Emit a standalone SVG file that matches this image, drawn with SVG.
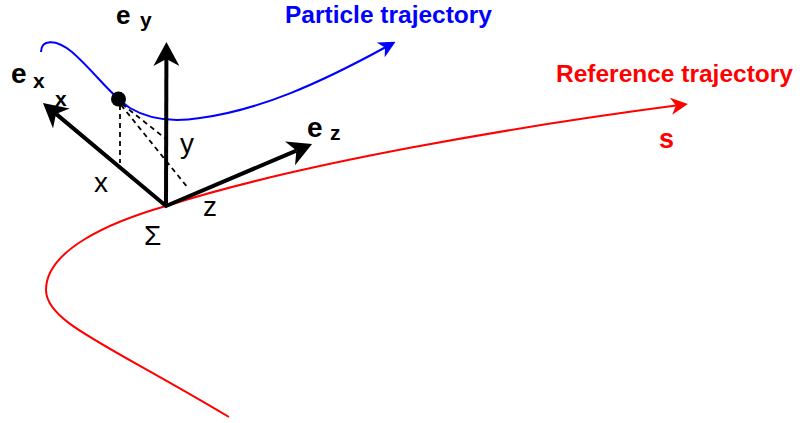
<svg xmlns="http://www.w3.org/2000/svg" width="800" height="423" viewBox="0 0 800 423">
  <style>
    text { font-family: "Liberation Sans", Arial, Helvetica, sans-serif; }
    .lbl { font-size: 28px; fill: #000; }
    .e { font-size: 28px; font-weight: bold; fill: #000; }
    .sub { font-size: 21px; font-weight: bold; fill: #000; }
    .title { font-size: 24.5px; font-weight: bold; }
    .axis { fill: none; stroke: #000; stroke-width: 4; stroke-linejoin: miter; }
    .dash { fill: none; stroke: #000; stroke-width: 1.8; stroke-dasharray: 5 4; }
  </style>
  <defs>
    <marker id="arrRed" markerUnits="userSpaceOnUse" markerWidth="17" markerHeight="17" refX="5" refY="8.5" orient="auto">
      <path d="M0,0 L17,8.5 L0,17 L5,8.5 Z" fill="#FF0000"/>
    </marker>
    <marker id="arrBlue" markerUnits="userSpaceOnUse" markerWidth="17" markerHeight="17" refX="5" refY="8.5" orient="auto">
      <path d="M0,0 L17,8.5 L0,17 L5,8.5 Z" fill="#0000FF"/>
    </marker>
    <marker id="arrBlack" markerUnits="userSpaceOnUse" markerWidth="24" markerHeight="26" refX="7" refY="13" orient="auto-start-reverse">
      <path d="M0,0 L24,13 L0,26 L7,13 Z" fill="#000"/>
    </marker>
  </defs>

  <g id="connectors">
    <path id="reference-trajectory" d="M229,417 C105,343 46,322 46,290 C46,250 110,222 166,206 C300,163 520,126 676,105.6" fill="none" stroke="#FF0000" stroke-width="2" marker-end="url(#arrRed)"/>
    <path id="particle-trajectory" d="M41,52 C41,40 55,38 72,52 C95,72 110,95 130,108 C150,120 175,122 200,118 C260,110 320,83 385,47.5" fill="none" stroke="#0000FF" stroke-width="2" marker-end="url(#arrBlue)"/>
    <line class="dash" x1="120" y1="105" x2="120" y2="163"/>
    <line class="dash" x1="122" y1="104" x2="166" y2="139"/>
    <line class="dash" x1="121" y1="105" x2="188" y2="188"/>
  </g>

  <g id="label-x-hidden">
    <text class="sub" x="55" y="106">x</text>
  </g>

  <g id="axes">
    <path id="axis-xz" class="axis" d="M56,113.9 L166,206 L296.4,150.6" marker-start="url(#arrBlack)" marker-end="url(#arrBlack)"/>
    <path id="axis-y" class="axis" d="M166,206 L166.4,59" marker-end="url(#arrBlack)"/>
  </g>

  <g id="particle">
    <circle cx="118.5" cy="99" r="7.5" fill="#000"/>
  </g>

  <g id="label-particle-trajectory">
    <text class="title" x="285" y="22.5" fill="#0000FF">Particle trajectory</text>
  </g>
  <g id="label-reference-trajectory">
    <text class="title" x="556" y="81.5" fill="#FF0000">Reference trajectory</text>
  </g>
  <g id="label-s">
    <text x="659" y="148" font-size="27" font-weight="bold" fill="#FF0000">s</text>
  </g>
  <g id="label-ey">
    <text class="e" x="116" y="23.5" font-size="26" style="font-size:26px">e</text>
    <text class="sub" x="140" y="27">y</text>
  </g>
  <g id="label-ex">
    <text class="e" x="11" y="83">e</text>
    <text class="sub" x="33" y="88">x</text>
  </g>
  <g id="label-ez">
    <text class="e" x="307" y="137">e</text>
    <text class="sub" x="330" y="140">z</text>
  </g>
  <g id="label-x">
    <text class="lbl" x="94" y="192">x</text>
  </g>
  <g id="label-y">
    <text class="lbl" x="180" y="153">y</text>
  </g>
  <g id="label-z">
    <text class="lbl" x="203" y="216">z</text>
  </g>
  <g id="label-sigma">
    <text class="lbl" x="144" y="245">Σ</text>
  </g>
</svg>
